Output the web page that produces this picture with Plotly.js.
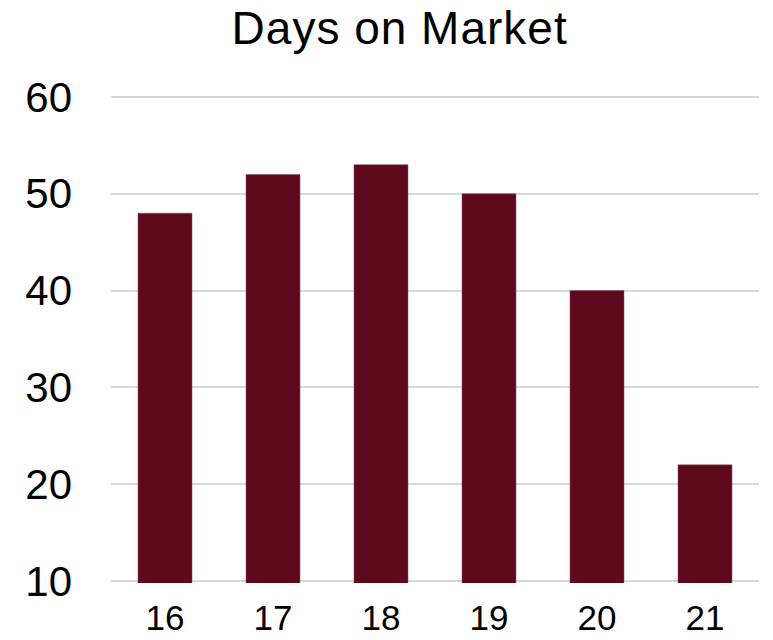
<!DOCTYPE html>
<html><head><meta charset="utf-8">
<script src="https://cdn.plot.ly/plotly-3.0.1.min.js"></script>
<style>body{margin:0;background:#fff}#chart{width:773px;height:640px}
#chart .gtitle{letter-spacing:1px}</style>
</head><body><div id="chart"></div>
<script>
const categories = ["16", "17", "18", "19", "20", "21"];
const daysOnMarket = [48, 52, 53, 50, 40, 22];
const yTicks = [10, 20, 30, 40, 50, 60];

Plotly.newPlot('chart', [{
  type: 'bar',
  x: categories,
  y: daysOnMarket,
  marker: {color: '#5e0a1c', line: {color: '#8a4a58', width: 0.5}},
  hoverinfo: 'none'
}], {
  width: 773, height: 640,
  margin: {l: 111, r: 14, t: 95, b: 57},
  paper_bgcolor: '#ffffff', plot_bgcolor: '#ffffff',
  bargap: 0.5,
  showlegend: false,
  font: {family: 'Liberation Sans, Arial, sans-serif', color: '#000000'},
  title: {text: 'Days on Market', font: {size: 46, color: '#000'}, x: 0.517, xanchor: 'center', y: 0.957, yanchor: 'middle'},
  xaxis: {type: 'category', showgrid: false, zeroline: false, showline: false, ticks: '', tickfont: {size: 35}, ticklabelstandoff: 11},
  yaxis: {range: [9.8, 60.2], tickvals: yTicks, ticktext: yTicks.map(String), showgrid: true, gridcolor: '#d9d9d9', gridwidth: 2, zeroline: false, showline: false, ticks: '', tickfont: {size: 42}, ticklabelstandoff: 38}
}, {staticPlot: true});
</script></body></html>
